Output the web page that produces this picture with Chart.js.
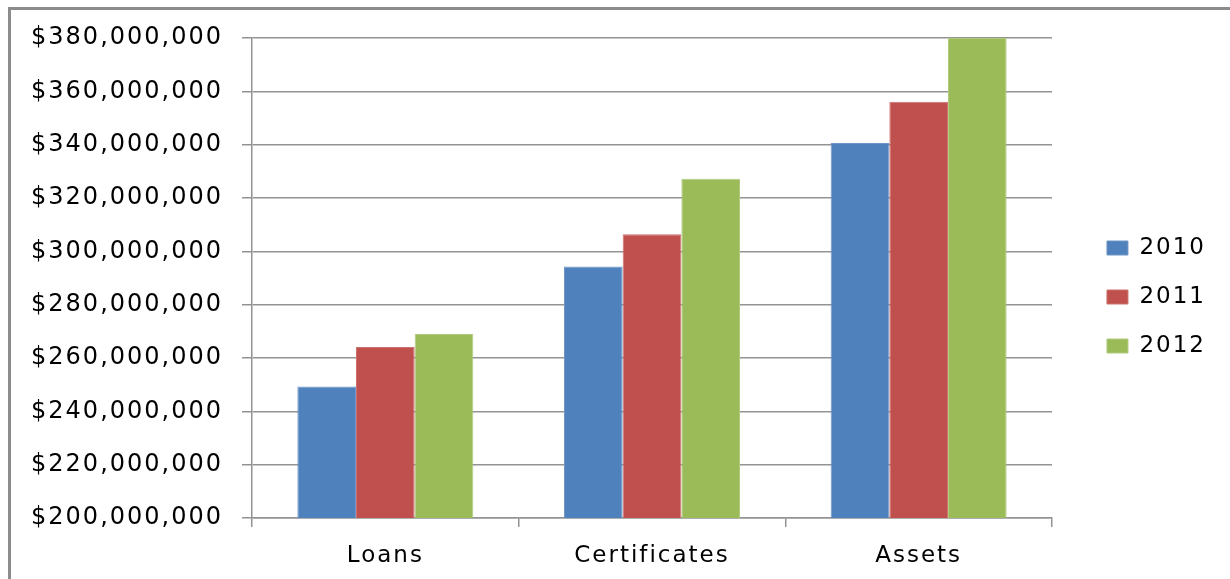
<!DOCTYPE html>
<html>
<head>
<meta charset="utf-8">
<script src="https://cdn.jsdelivr.net/npm/chart.js@4/dist/chart.umd.min.js"></script>
<style>
  html, body { margin: 0; padding: 0; background: #fff; }
  #wrap { position: absolute; left: 0; top: 0; width: 1230px; height: 579px; }
  #frame {
    position: absolute; left: 8px; top: 7px; right: 0; bottom: 0;
    border-left: 3px solid #8c8c8c; border-top: 3px solid #8c8c8c;
    pointer-events: none;
  }
</style>
</head>
<body>
<div id="wrap">
  <canvas id="grafica"></canvas>
  <div id="frame"></div>
</div>
<script>
// datos
const categorias = ['Loans', 'Certificates', 'Assets'];
const anios = ['2010', '2011', '2012'];
const valores2010 = [249300000, 294300000, 340600000];
const valores2011 = [264100000, 306400000, 356100000];
const valores2012 = [269000000, 327200000, 380000000];
const ejeMin = 200000000;
const ejeMax = 380000000;
const ejePaso = 20000000;

const colores = ['#4F81BD', '#C0504D', '#9BBB59'];
const bordes = ['#7096C8', '#CC726F', '#B0CB7E'];
const series = [valores2010, valores2011, valores2012];

const FUENTE = { family: "'DejaVu Sans', sans-serif", size: 23 };
const FUENTE_Y = { family: "'DejaVu Sans', sans-serif", size: 24 };
const GRIS = '#939393';
const PAD_DER = 14;

// espaciado entre letras para imitar el texto ancho del original
const espaciado = {
  id: 'espaciado',
  beforeLayout(chart) { chart.ctx.letterSpacing = '2px'; },
  beforeDraw(chart) { chart.ctx.letterSpacing = '2px'; }
};

Chart.defaults.color = '#000';

new Chart(document.getElementById('grafica').getContext('2d'), {
  type: 'bar',
  data: {
    labels: categorias,
    datasets: anios.map((a, i) => ({
      label: a,
      data: series[i],
      backgroundColor: colores[i],
      borderColor: bordes[i],
      borderWidth: 1,
      categoryPercentage: 0.66,
      barPercentage: 1
    }))
  },
  options: {
    responsive: true,
    maintainAspectRatio: false,
    animation: false,
    layout: { padding: { top: 38, left: 0, right: PAD_DER, bottom: 0 } },
    plugins: {
      title: { display: false },
      tooltip: { enabled: false },
      legend: {
        position: 'right',
        align: 'center',
        fullSize: false,
        title: { display: true, text: '', font: { size: 12 }, padding: { top: 12, bottom: 11.6 } },
        labels: {
          font: FUENTE,
          color: '#000',
          boxWidth: 21,
          boxHeight: 14,
          padding: 26
        }
      }
    },
    scales: {
      x: {
        offset: true,
        grid: { display: true, drawOnChartArea: false, offset: true, tickLength: 9, color: GRIS, lineWidth: 1.5 },
        border: { display: true, color: GRIS, width: 1.5 },
        ticks: { font: FUENTE, color: '#000', padding: 15, maxRotation: 0 },
        afterFit: s => { s.height = 61; }
      },
      y: {
        min: ejeMin,
        max: ejeMax,
        grid: { color: GRIS, lineWidth: 1.5, tickLength: 10 },
        border: { display: true, color: GRIS, width: 1.5 },
        ticks: {
          stepSize: ejePaso,
          font: FUENTE_Y,
          color: '#000',
          padding: 19,
          callback: v => '$' + Number(v).toLocaleString('en-US')
        },
        afterFit: s => { s.width = 252; }
      },
      relleno: {
        type: 'linear',
        position: 'right',
        display: true,
        grid: { display: false, drawTicks: false },
        border: { display: false },
        ticks: { display: false },
        afterFit: s => {
          const lw = (s.chart.legend && s.chart.legend.width) || 135;
          s.width = Math.max(0, 1230 - PAD_DER - lw - 1052);
        }
      }
    }
  },
  plugins: [espaciado]
});
</script>
</body>
</html>
